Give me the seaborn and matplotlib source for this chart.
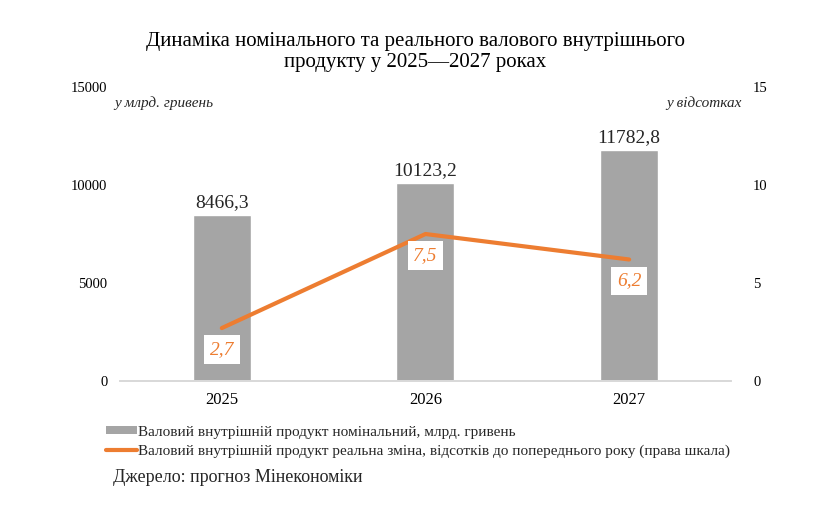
import matplotlib
matplotlib.use("Agg")
import matplotlib.pyplot as plt
import seaborn as sns
from matplotlib.patches import Patch
from matplotlib.lines import Line2D

# Data
years = ["2025", "2026", "2027"]
gdp_nominal = [8466.3, 10123.2, 11782.8]
gdp_real_change = [2.7, 7.5, 6.2]
nominal_labels = ["8466,3", "10123,2", "11782,8"]
change_labels = ["2,7", "7,5", "6,2"]

bar_color = "#a5a5a5"
line_color = "#ed7d31"

sns.set_theme(style="white")
plt.rcParams["font.family"] = ["Liberation Serif", "DejaVu Serif"]

fig = plt.figure(figsize=(8.19, 5.09), dpi=100)
ax = fig.add_axes([0.1465, 0.2515, 0.746, 0.5775])

sns.barplot(x=years, y=gdp_nominal, color=bar_color, width=0.285,
            saturation=1, ax=ax)
ax.set_ylim(0, 15000)
ax.set_yticks([0, 5000, 10000, 15000])
ax.set_xlim(-0.5, 2.5)
for i, v in enumerate(gdp_nominal):
    ax.text(i, v + 180, nominal_labels[i], ha="center", va="bottom", fontsize=14)

ax2 = ax.twinx()
sns.lineplot(x=list(range(len(years))), y=gdp_real_change, color=line_color,
             linewidth=3, ax=ax2)
ax2.set_ylim(0, 15)
ax2.set_yticks([0, 5, 10, 15])
for i, v in enumerate(gdp_real_change):
    ax2.text(i, v - 1.1, change_labels[i], ha="center", va="center",
             fontsize=14, style="italic", color=line_color,
             bbox=dict(facecolor="white", edgecolor="none", pad=4))

for a in (ax, ax2):
    for s in ["top", "left", "right"]:
        a.spines[s].set_visible(False)
    a.spines["bottom"].set_color("#d9d9d9")
    a.tick_params(axis="both", length=0, labelsize=10.5, colors="black")
ax.tick_params(axis="x", labelsize=12, pad=8)
ax.tick_params(axis="y", pad=9)
ax2.tick_params(axis="y", pad=16)

# Title
fig.text(0.507, 0.898,
         "Динаміка номінального та реального валового внутрішнього\nпродукту у 2025—2027 роках",
         ha="center", va="center", fontsize=15, linespacing=1.2, color="black")
fig.text(0.14, 0.797, "у млрд. гривень", ha="left", va="center",
         fontsize=11, style="italic")
fig.text(0.905, 0.797, "у відсотках", ha="right", va="center",
         fontsize=11, style="italic")

handles = [Patch(facecolor=bar_color, edgecolor="none"),
           Line2D([0], [0], color=line_color, linewidth=3)]
labels = ["Валовий внутрішній продукт номінальний, млрд. гривень",
          "Валовий внутрішній продукт реальна зміна, відсотків до попереднього року (права шкала)"]
fig.legend(handles, labels, loc="upper left", bbox_to_anchor=(0.122, 0.176),
           frameon=False, fontsize=11, handlelength=2.0, handleheight=0.5,
           handletextpad=0.1, labelspacing=0.4, borderaxespad=0)

fig.text(0.138, 0.062, "Джерело: прогноз Мінекономіки", ha="left", va="center",
         fontsize=13)

fig.savefig("out.png", dpi=100)
